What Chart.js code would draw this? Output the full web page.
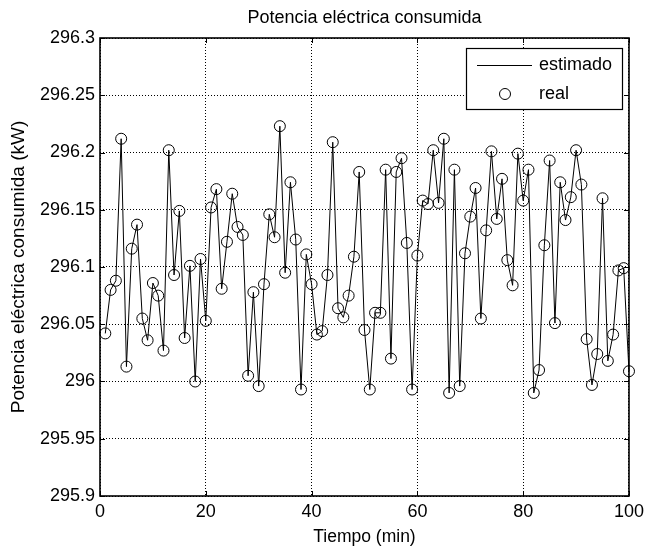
<!DOCTYPE html>
<html>
<head>
<meta charset="utf-8">
<script src="https://cdn.jsdelivr.net/npm/chart.js"></script>
<style>
  html, body { margin: 0; padding: 0; background: #fff; }
  #wrap { width: 649px; height: 551px; }
</style>
</head>
<body>
<div id="wrap"><canvas id="c" width="649" height="551"></canvas></div>
<script>
// ---- data ----
const chartTitle = 'Potencia eléctrica consumida';
const xTitle = 'Tiempo (min)';
const yTitle = 'Potencia eléctrica consumida (kW)';
const seriesNames = ['estimado', 'real'];

const tiempo = [
  1, 2, 3, 4, 5, 6, 7, 8, 9, 10,
  11, 12, 13, 14, 15, 16, 17, 18, 19, 20,
  21, 22, 23, 24, 25, 26, 27, 28, 29, 30,
  31, 32, 33, 34, 35, 36, 37, 38, 39, 40,
  41, 42, 43, 44, 45, 46, 47, 48, 49, 50,
  51, 52, 53, 54, 55, 56, 57, 58, 59, 60,
  61, 62, 63, 64, 65, 66, 67, 68, 69, 70,
  71, 72, 73, 74, 75, 76, 77, 78, 79, 80,
  81, 82, 83, 84, 85, 86, 87, 88, 89, 90,
  91, 92, 93, 94, 95, 96, 97, 98, 99, 100
];

const potencia = [
  296.042, 296.080, 296.088, 296.212, 296.013, 296.116, 296.137, 296.055, 296.036, 296.086,
  296.075, 296.027, 296.202, 296.093, 296.149, 296.038, 296.101, 296.000, 296.107, 296.053,
  296.152, 296.168, 296.081, 296.122, 296.164, 296.135, 296.128, 296.005, 296.078, 295.996,
  296.085, 296.146, 296.126, 296.223, 296.095, 296.174, 296.124, 295.993, 296.111, 296.085,
  296.041, 296.044, 296.093, 296.209, 296.064, 296.056, 296.075, 296.109, 296.183, 296.045,
  295.993, 296.060, 296.060, 296.185, 296.020, 296.183, 296.195, 296.121, 295.993, 296.110,
  296.158, 296.155, 296.202, 296.156, 296.212, 295.990, 296.185, 295.996, 296.112, 296.144,
  296.169, 296.055, 296.132, 296.201, 296.142, 296.177, 296.106, 296.084, 296.199, 296.158,
  296.185, 295.990, 296.010, 296.119, 296.193, 296.051, 296.174, 296.141, 296.161, 296.202,
  296.172, 296.037, 295.997, 296.024, 296.160, 296.018, 296.041, 296.097, 296.099, 296.009
];

const xTicks = [0, 20, 40, 60, 80, 100];
const yTicks = [295.9, 295.95, 296, 296.05, 296.1, 296.15, 296.2, 296.25, 296.3];

// ---- drawing ----
const FONT = 'Liberation Sans, Arial, Helvetica, sans-serif';
const FS = 18;

const pts = tiempo.map((t, i) => ({ x: t, y: potencia[i] }));

const framePlugin = {
  id: 'frame',
  afterDatasetsDraw(chart) {
    const { ctx, chartArea: a, scales: { x, y } } = chart;
    ctx.save();
    ctx.strokeStyle = '#000';
    ctx.lineWidth = 1;
    ctx.setLineDash([]);
    const L = Math.round(a.left), R = Math.round(a.right), T = Math.round(a.top), B = Math.round(a.bottom);
    const tl = 5;
    ctx.beginPath();
    x.ticks.forEach(t => {
      const px = Math.round(x.getPixelForValue(t.value)) + 0.5;
      ctx.moveTo(px, B); ctx.lineTo(px, B - tl);
      ctx.moveTo(px, T); ctx.lineTo(px, T + tl);
    });
    y.ticks.forEach(t => {
      const py = Math.round(y.getPixelForValue(t.value)) + 0.5;
      ctx.moveTo(L, py); ctx.lineTo(L + tl, py);
      ctx.moveTo(R, py); ctx.lineTo(R - tl, py);
    });
    ctx.stroke();
    ctx.lineWidth = 1.6;
    ctx.strokeRect(L, T, R - L, B - T);

    // legend box
    const bx = R - 7 - 156, by = T + 10, bw = 156, bh = 61;
    ctx.fillStyle = '#fff';
    ctx.fillRect(bx, by, bw, bh);
    ctx.lineWidth = 1.2;
    ctx.strokeRect(bx + 0.5, by + 0.5, bw, bh);
    ctx.lineWidth = 1;
    ctx.beginPath();
    ctx.moveTo(bx + 11, by + 17.5); ctx.lineTo(bx + 66, by + 17.5);
    ctx.stroke();
    ctx.beginPath();
    ctx.arc(bx + 39, by + 46, 5.5, 0, Math.PI * 2);
    ctx.stroke();
    ctx.fillStyle = '#000';
    ctx.font = FS + 'px ' + FONT;
    ctx.textAlign = 'left';
    ctx.textBaseline = 'middle';
    const ds = chart.data.datasets;
    ctx.fillText(ds[0].label, bx + 73, by + 17);
    ctx.fillText(ds[1].label, bx + 73, by + 46);

    // title
    ctx.textAlign = 'center';
    ctx.font = FS + 'px ' + FONT;
    ctx.fillText(chart.options.plugins.frame.title, (L + R) / 2, 18);
    ctx.restore();
  }
};

new Chart(document.getElementById('c'), {
  type: 'scatter',
  data: {
    datasets: [
      {
        label: seriesNames[0],
        data: pts,
        showLine: true,
        borderColor: '#000',
        borderWidth: 1,
        pointRadius: 0,
        tension: 0,
        clip: false,
        order: 2
      },
      {
        label: seriesNames[1],
        data: pts,
        showLine: false,
        pointStyle: 'circle',
        pointRadius: 5.5,
        pointBorderWidth: 1,
        borderColor: '#000',
        backgroundColor: 'rgba(0,0,0,0)',
        pointBackgroundColor: 'rgba(0,0,0,0)',
        pointBorderColor: '#000',
        clip: false,
        order: 1
      }
    ]
  },
  options: {
    responsive: false,
    animation: false,
    devicePixelRatio: 1,
    layout: { padding: { left: 0, right: 17, top: 38, bottom: 0 } },
    plugins: {
      legend: { display: false },
      tooltip: { enabled: false },
      title: { display: false },
      frame: { title: chartTitle }
    },
    scales: {
      x: {
        type: 'linear',
        min: 0, max: 100,
        afterBuildTicks: s => { s.ticks = xTicks.map(v => ({ value: v })); },
        afterFit: s => { s.height = 55; },
        ticks: { color: '#000', font: { family: FONT, size: FS }, padding: 5, maxRotation: 0,
                 callback: v => String(v) },
        grid: { color: '#000', lineWidth: 1, drawTicks: false },
        border: { display: false, dash: [1, 2] },
        title: { display: true, text: xTitle, color: '#000', font: { family: FONT, size: 17.5 },
                 padding: { top: 0, bottom: 3 } }
      },
      y: {
        type: 'linear',
        min: 295.9, max: 296.3,
        afterBuildTicks: s => { s.ticks = yTicks.map(v => ({ value: v })); },
        afterFit: s => { s.width = 100; },
        ticks: { color: '#000', font: { family: FONT, size: FS }, padding: 5,
                 callback: v => String(+Number(v).toFixed(2)) },
        grid: { color: '#000', lineWidth: 1, drawTicks: false },
        border: { display: false, dash: [1, 2] },
        title: { display: true, text: yTitle, color: '#000', font: { family: FONT, size: 19 },
                 padding: { top: 7, bottom: 0 } }
      }
    }
  },
  plugins: [framePlugin]
});
</script>
</body>
</html>
